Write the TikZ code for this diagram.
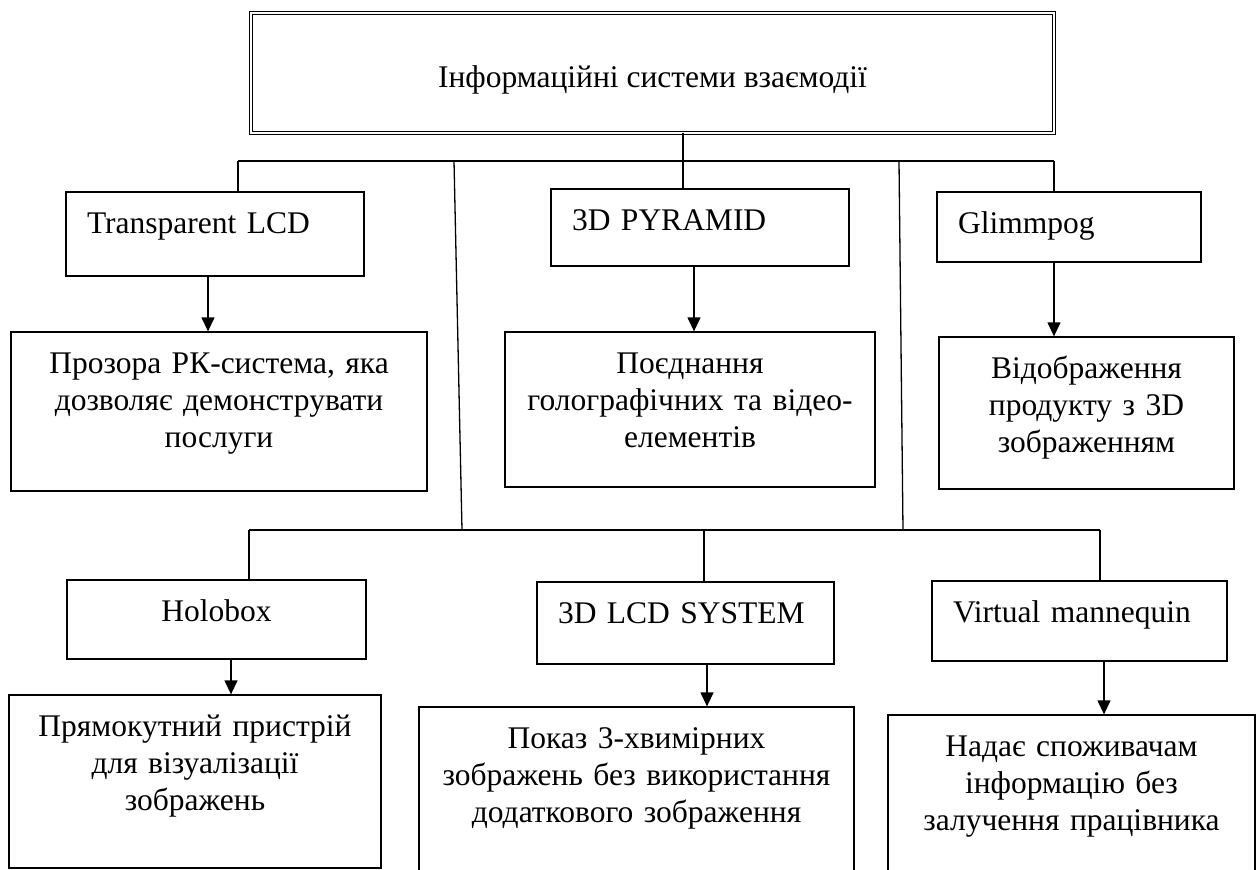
\documentclass[tikz,border=0pt]{standalone}
\usepackage{fontspec}
\setmainfont{Liberation Serif}
\usetikzlibrary{arrows.meta}
\tikzset{
    box/.style={draw,line width=1.3pt,inner sep=0pt,text height=41pt,font=\fontsize{31.5}{37}\selectfont},
    lbl/.style={box,align=left,inner xsep=21pt},
    desc/.style={box,align=center},
    link/.style={line width=1.3pt},
    arr/.style={link,-{Triangle[length=14pt,width=13pt]}}
}
\begin{document}
\begin{tikzpicture}[x=1pt,y=-1pt]
                \useasboundingbox (0,0) rectangle (1259,870);
                \node[draw,double,double distance=2pt,line width=0.8pt,minimum width=803pt,minimum height=120pt,text height=28pt,text depth=0pt,font=\fontsize{31.5}{37}\selectfont] (top) at (652.5,73) {Інформаційні системи взаємодії};
                \node[lbl,text width=256pt,text depth=43pt] (tlcd) at (215,234) {Transparent LCD};
                \node[lbl,text width=256pt,text depth=36pt] (pyr) at (700,227.5) {3D PYRAMID};
                \node[lbl,text width=222pt,text depth=29pt] (glim) at (1069,227) {Glimmpog};
                \node[desc,text width=416pt,text depth=118pt] (d1) at (219,411.5) {Прозора РК-система, яка\\ дозволяє демонструвати\\ послуги};
                \node[desc,text width=370pt,text depth=114pt] (d2) at (690,409.5) {Поєднання\\ голографічних та відео-\\ елементів};
                \node[desc,text width=295pt,text depth=111pt] (d3) at (1086.5,413) {Відображення\\ продукту з 3D\\ зображенням};
                \node[desc,text width=299pt,text depth=38pt] (holo) at (216.5,619.5) {Holobox};
                \node[lbl,text width=255pt,text depth=41pt] (lcd) at (685.5,623) {3D LCD SYSTEM};
                \node[lbl,text width=253pt,text depth=39pt] (vman) at (1079.5,621) {Virtual mannequin};
                \node[desc,text width=372pt,text depth=132pt] (d4) at (195,781.5) {Прямокутний пристрій\\ для візуалізації\\ зображень};
                \node[desc,text width=435pt,text depth=142pt] (d5) at (636.5,798.5) {Показ 3-хвимірних\\ зображень без використання\\ додаткового зображення};
                \node[desc,text width=367pt,text depth=134pt] (d6) at (1071.5,802.5) {Надає споживачам\\ інформацію без\\ залучення працівника};
                \coordinate (busA) at (238,161);
                \coordinate (busB) at (1054,161);
                \coordinate (busC) at (249,530);
                \coordinate (busD) at (1100,530);
                \coordinate (busE) at (704,530);
                \coordinate (v1a) at (454,161);
                \coordinate (v1b) at (462,530);
                \coordinate (v2a) at (899,161);
                \coordinate (v2b) at (903,530);
                \draw[link] (busA) -- (busB);
                \draw[link] (busC) -- (busD);
                \draw[link] (v1a) -- (v1b);
                \draw[link] (v2a) -- (v2b);
                \draw[link] ([xshift=30.5pt]top.south) -- ([xshift=30.5pt]top.south |- pyr.north);
                \draw[link] (busA) -- (busA |- tlcd.north);
                \draw[link] (busB) -- (busB |- glim.north);
                \draw[link] (busC) -- (busC |- holo.north);
                \draw[link] (busE) -- (busE |- lcd.north);
                \draw[link] (busD) -- (busD |- vman.north);
                \draw[arr] ([xshift=-7pt]tlcd.south) -- ([xshift=-7pt]tlcd.south |- d1.north);
                \draw[arr] ([xshift=-6pt]pyr.south) -- ([xshift=-6pt]pyr.south |- d2.north);
                \draw[arr] (busB |- glim.south) -- (busB |- d3.north);
                \draw[arr] ([xshift=14.5pt]holo.south) -- ([xshift=14.5pt]holo.south |- d4.north);
                \draw[arr] ([xshift=21.5pt]lcd.south) -- ([xshift=21.5pt]lcd.south |- d5.north);
                \draw[arr] ([xshift=24.5pt]vman.south) -- ([xshift=24.5pt]vman.south |- d6.north);
            \end{tikzpicture}
\end{document}
